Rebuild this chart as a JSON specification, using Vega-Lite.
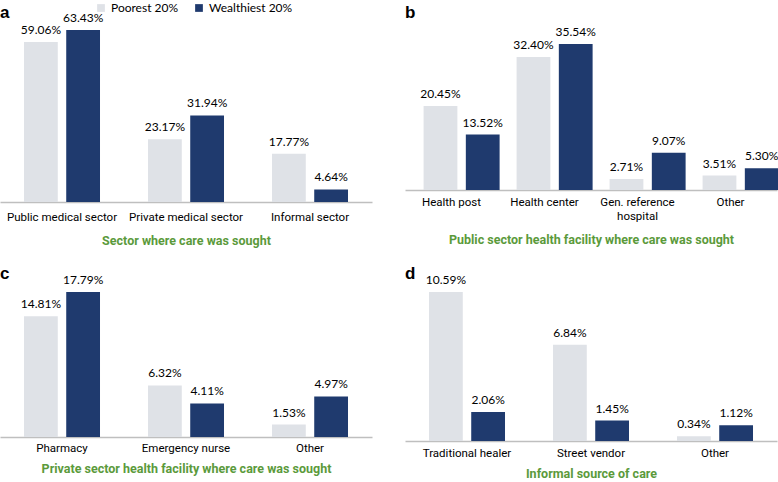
{
  "$schema": "https://vega.github.io/schema/vega-lite/v6.json",
  "padding": {"top": 2, "left": 0, "right": 0, "bottom": 0},
  "background": "white",
  "datasets": {
    "a": [
      {"category": "Public medical sector", "group": "Poorest 20%", "value": 59.06, "label": "59.06%"},
      {"category": "Public medical sector", "group": "Wealthiest 20%", "value": 63.43, "label": "63.43%"},
      {"category": "Private medical sector", "group": "Poorest 20%", "value": 23.17, "label": "23.17%"},
      {"category": "Private medical sector", "group": "Wealthiest 20%", "value": 31.94, "label": "31.94%"},
      {"category": "Informal sector", "group": "Poorest 20%", "value": 17.77, "label": "17.77%"},
      {"category": "Informal sector", "group": "Wealthiest 20%", "value": 4.64, "label": "4.64%"}
    ],
    "b": [
      {"category": "Health post", "group": "Poorest 20%", "value": 20.45, "label": "20.45%"},
      {"category": "Health post", "group": "Wealthiest 20%", "value": 13.52, "label": "13.52%"},
      {"category": "Health center", "group": "Poorest 20%", "value": 32.40, "label": "32.40%"},
      {"category": "Health center", "group": "Wealthiest 20%", "value": 35.54, "label": "35.54%"},
      {"category": "Gen. reference hospital", "group": "Poorest 20%", "value": 2.71, "label": "2.71%"},
      {"category": "Gen. reference hospital", "group": "Wealthiest 20%", "value": 9.07, "label": "9.07%"},
      {"category": "Other", "group": "Poorest 20%", "value": 3.51, "label": "3.51%"},
      {"category": "Other", "group": "Wealthiest 20%", "value": 5.30, "label": "5.30%"}
    ],
    "c": [
      {"category": "Pharmacy", "group": "Poorest 20%", "value": 14.81, "label": "14.81%"},
      {"category": "Pharmacy", "group": "Wealthiest 20%", "value": 17.79, "label": "17.79%"},
      {"category": "Emergency nurse", "group": "Poorest 20%", "value": 6.32, "label": "6.32%"},
      {"category": "Emergency nurse", "group": "Wealthiest 20%", "value": 4.11, "label": "4.11%"},
      {"category": "Other", "group": "Poorest 20%", "value": 1.53, "label": "1.53%"},
      {"category": "Other", "group": "Wealthiest 20%", "value": 4.97, "label": "4.97%"}
    ],
    "d": [
      {"category": "Traditional healer", "group": "Poorest 20%", "value": 10.59, "label": "10.59%"},
      {"category": "Traditional healer", "group": "Wealthiest 20%", "value": 2.06, "label": "2.06%"},
      {"category": "Street vendor", "group": "Poorest 20%", "value": 6.84, "label": "6.84%"},
      {"category": "Street vendor", "group": "Wealthiest 20%", "value": 1.45, "label": "1.45%"},
      {"category": "Other", "group": "Poorest 20%", "value": 0.34, "label": "0.34%"},
      {"category": "Other", "group": "Wealthiest 20%", "value": 1.12, "label": "1.12%"}
    ]
  },
  "config": {
    "view": {"stroke": null},
    "axisX": {
      "labelAngle": 0, "ticks": false, "tickSize": 0, "domainColor": "#bfbfbf", "domainWidth": 1.5,
      "labelFont": "Roboto", "labelFontSize": 11.5, "labelColor": "#000000", "labelLineHeight": 14,
      "titleFont": "Roboto", "titleFontSize": 12.5, "titleFontWeight": "bold", "titleColor": "#5b9a3b",
      "grid": false
    },
    "title": {"anchor": "start", "frame": "group", "font": "Liberation Sans", "fontSize": 17, "fontWeight": "bold", "color": "#000000"},
    "text": {"font": "Lato", "fontSize": 12, "color": "#000000"}
  },
  "resolve": {"scale": {"color": "shared"}},
  "spacing": 15,
  "vconcat": [
    {
      "spacing": 33,
      "hconcat": [
        {
          "width": 372, "height": 200,
          "data": {"name": "a"},
          "title": {"text": "a", "offset": -20},
          "encoding": {
            "x": {"field": "category", "type": "nominal", "sort": null,
                  "scale": {"paddingInner": 0.387, "paddingOuter": 0.1935},
                  "axis": {"title": "Sector where care was sought", "labelPadding": 9, "titlePadding": 12}},
            "xOffset": {"field": "group", "sort": null, "scale": {"paddingInner": 0.2}},
            "y": {"field": "value", "type": "quantitative", "scale": {"domain": [0, 73.8]}, "axis": null}
          },
          "layer": [
            {"mark": {"type": "bar"},
             "encoding": {"color": {"field": "group", "type": "nominal", "sort": null,
               "scale": {"domain": ["Poorest 20%", "Wealthiest 20%"], "range": ["#dfe2e7", "#1f3a6e"]},
               "legend": {"title": null, "orient": "none", "legendX": 95, "legendY": 0, "direction": "horizontal",
                          "symbolType": "square", "symbolSize": 60, "labelFont": "Lato", "labelFontSize": 12, "labelColor": "#000000", "columnPadding": 14}}}},
            {"mark": {"type": "text", "baseline": "alphabetic", "dy": -8},
             "encoding": {"text": {"field": "label"}}}
          ]
        },
        {
          "width": 372, "height": 188,
          "data": {"name": "b"},
          "title": {"text": "b", "offset": -20},
          "encoding": {
            "x": {"field": "category", "type": "nominal", "sort": null,
                  "scale": {"paddingInner": 0.4, "paddingOuter": 0.2},
                  "axis": {"title": "Public sector health facility where care was sought", "labelPadding": 6, "titlePadding": 12,
                           "labelExpr": "datum.label == 'Gen. reference hospital' ? ['Gen. reference', 'hospital'] : datum.label"}},
            "xOffset": {"field": "group", "sort": null, "scale": {"paddingInner": 0.15}},
            "y": {"field": "value", "type": "quantitative", "scale": {"domain": [0, 45.8]}, "axis": null}
          },
          "layer": [
            {"mark": {"type": "bar"},
             "encoding": {"color": {"field": "group", "type": "nominal", "sort": null}}},
            {"mark": {"type": "text", "baseline": "alphabetic", "dy": -8},
             "encoding": {"text": {"field": "label"}}}
          ]
        }
      ]
    },
    {
      "spacing": 33,
      "hconcat": [
        {
          "width": 372, "height": 175,
          "data": {"name": "c"},
          "title": {"text": "c", "offset": -21},
          "encoding": {
            "x": {"field": "category", "type": "nominal", "sort": null,
                  "scale": {"paddingInner": 0.387, "paddingOuter": 0.1935},
                  "axis": {"title": "Private sector health facility where care was sought", "labelPadding": 5, "titlePadding": 9}},
            "xOffset": {"field": "group", "sort": null, "scale": {"paddingInner": 0.2}},
            "y": {"field": "value", "type": "quantitative", "scale": {"domain": [0, 21.47]}, "axis": null}
          },
          "layer": [
            {"mark": {"type": "bar"},
             "encoding": {"color": {"field": "group", "type": "nominal", "sort": null}}},
            {"mark": {"type": "text", "baseline": "alphabetic", "dy": -8},
             "encoding": {"text": {"field": "label"}}}
          ]
        },
        {
          "width": 372, "height": 179,
          "data": {"name": "d"},
          "title": {"text": "d", "offset": -21},
          "encoding": {
            "x": {"field": "category", "type": "nominal", "sort": null,
                  "scale": {"paddingInner": 0.387, "paddingOuter": 0.1935},
                  "axis": {"title": "Informal source of care", "labelPadding": 6, "titlePadding": 9}},
            "xOffset": {"field": "group", "sort": null, "scale": {"paddingInner": 0.2}},
            "y": {"field": "value", "type": "quantitative", "scale": {"domain": [0, 12.72]}, "axis": null}
          },
          "layer": [
            {"mark": {"type": "bar"},
             "encoding": {"color": {"field": "group", "type": "nominal", "sort": null}}},
            {"mark": {"type": "text", "baseline": "alphabetic", "dy": -8},
             "encoding": {"text": {"field": "label"}}}
          ]
        }
      ]
    }
  ]
}
